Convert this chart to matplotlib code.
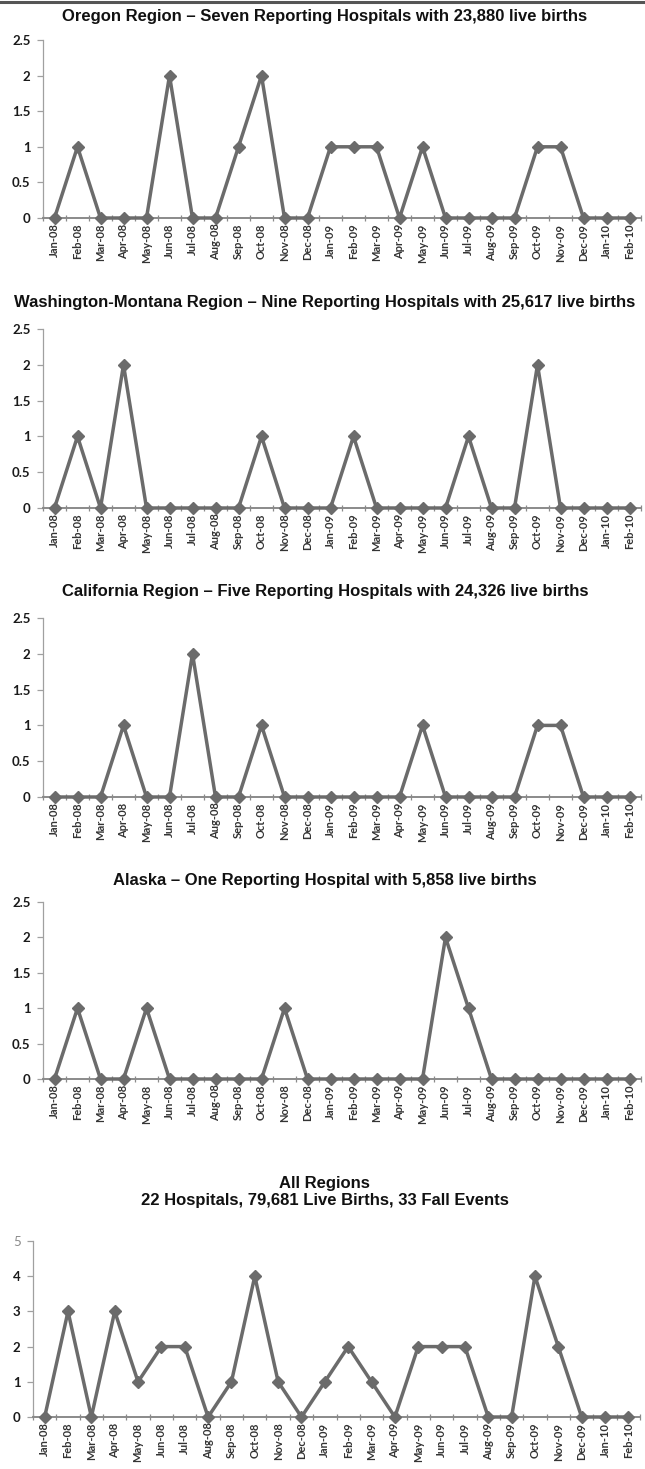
import matplotlib
matplotlib.use("Agg")
import matplotlib.pyplot as plt
import numpy as np

months = ["Jan-08", "Feb-08", "Mar-08", "Apr-08", "May-08", "Jun-08", "Jul-08",
          "Aug-08", "Sep-08", "Oct-08", "Nov-08", "Dec-08", "Jan-09", "Feb-09",
          "Mar-09", "Apr-09", "May-09", "Jun-09", "Jul-09", "Aug-09", "Sep-09",
          "Oct-09", "Nov-09", "Dec-09", "Jan-10", "Feb-10"]

oregon = [0, 1, 0, 0, 0, 2, 0, 0, 1, 2, 0, 0, 1, 1, 1, 0, 1, 0, 0, 0, 0, 1, 1, 0, 0, 0]
washington = [0, 1, 0, 2, 0, 0, 0, 0, 0, 1, 0, 0, 0, 1, 0, 0, 0, 0, 1, 0, 0, 2, 0, 0, 0, 0]
california = [0, 0, 0, 1, 0, 0, 2, 0, 0, 1, 0, 0, 0, 0, 0, 0, 1, 0, 0, 0, 0, 1, 1, 0, 0, 0]
alaska = [0, 1, 0, 0, 1, 0, 0, 0, 0, 0, 1, 0, 0, 0, 0, 0, 0, 2, 1, 0, 0, 0, 0, 0, 0, 0]
all_regions = [0, 3, 0, 3, 1, 2, 2, 0, 1, 4, 1, 0, 1, 2, 1, 0, 2, 2, 2, 0, 0, 4, 2, 0, 0, 0]

titles = [
    "Oregon Region \u2013 Seven Reporting Hospitals with 23,880 live births",
    "Washington-Montana Region \u2013 Nine Reporting Hospitals with 25,617 live births",
    "California Region \u2013 Five Reporting Hospitals with 24,326 live births",
    "Alaska \u2013 One Reporting Hospital with 5,858 live births",
    "All Regions\n22 Hospitals, 79,681 Live Births, 33 Fall Events",
]
yticks_small = [0, 0.5, 1, 1.5, 2, 2.5]
yticklabels_small = ["0", "0.5", "1", "1.5", "2", "2.5"]
yticks_all = [0, 1, 2, 3, 4, 5]
yticklabels_all = ["0", "1", "2", "3", "4", "5"]

W, H = 645, 1469
fig = plt.figure(figsize=(W / 100, H / 100), dpi=100)

# pixel layout: (left, right, top(y at max), bottom(y at 0), title_y)
layout = [
    (43, 641, 40, 218, 16),
    (43, 641, 329, 508, 302),
    (43, 641, 618, 797, 592),
    (43, 641, 902, 1079, 881),
    (33, 640, 1241, 1417, 1192),
]
series = [oregon, washington, california, alaska, all_regions]

LINE = "#6b6b6b"
title_font = ["Liberation Sans", "DejaVu Sans"]
tick_font = ["Lato", "DejaVu Sans"]

for i, (vals, (l, r, t, b, ty)) in enumerate(zip(series, layout)):
    ax = fig.add_axes([l / W, 1 - b / H, (r - l) / W, (b - t) / H])
    x = np.arange(len(months))
    ax.plot(x, vals, color=LINE, lw=2.5, marker="D", markersize=6,
            markerfacecolor=LINE, markeredgecolor=LINE, zorder=3, clip_on=False)
    ax.set_xlim(-0.5, len(months) - 0.5)
    if i < 4:
        ax.set_ylim(0, 2.5)
        ax.set_yticks(yticks_small)
        ax.set_yticklabels(yticklabels_small)
    else:
        ax.set_ylim(0, 5)
        ax.set_yticks(yticks_all)
        ax.set_yticklabels(yticklabels_all)
    for s in ["top", "right"]:
        ax.spines[s].set_visible(False)
    ax.spines["left"].set_color("#a0a0a0")
    ax.spines["left"].set_linewidth(0.9)
    ax.spines["bottom"].set_color("#8a8a8a")
    ax.spines["bottom"].set_linewidth(1.4)
    ax.set_xticks(x)
    ax.set_xticklabels(months, rotation=90, fontsize=8, family=tick_font,
                       fontweight="bold", color="#333333")
    ax.set_xticks(np.arange(len(months) + 1) - 0.5, minor=True)
    ax.tick_params(axis="x", which="major", length=0, pad=4)
    ax.tick_params(axis="x", which="minor", length=4, width=0.9,
                   color="#8a8a8a", direction="inout")
    ax.tick_params(axis="y", length=4, width=0.9, color="#a0a0a0", pad=5)
    for lab in ax.get_yticklabels():
        lab.set_family(tick_font)
        lab.set_fontweight("bold")
        lab.set_fontsize(9.5)
        lab.set_color("#1a1a1a")
    if i == 4:
        top = ax.get_yticklabels()[-1]
        top.set_fontweight("normal")
        top.set_color("#8a8a8a")
    ax.set_facecolor("none")
    fig.text(0.5035, 1 - ty / H, titles[i], ha="center", va="center",
             fontsize=12, fontweight="bold", family=title_font,
             color="#111111", linespacing=1.1)

# top border line
fig.add_artist(plt.Line2D([0, 1], [1 - 1.5 / H, 1 - 1.5 / H],
                          transform=fig.transFigure, color="#555555", lw=2.2))

fig.savefig("out.png", dpi=100)
